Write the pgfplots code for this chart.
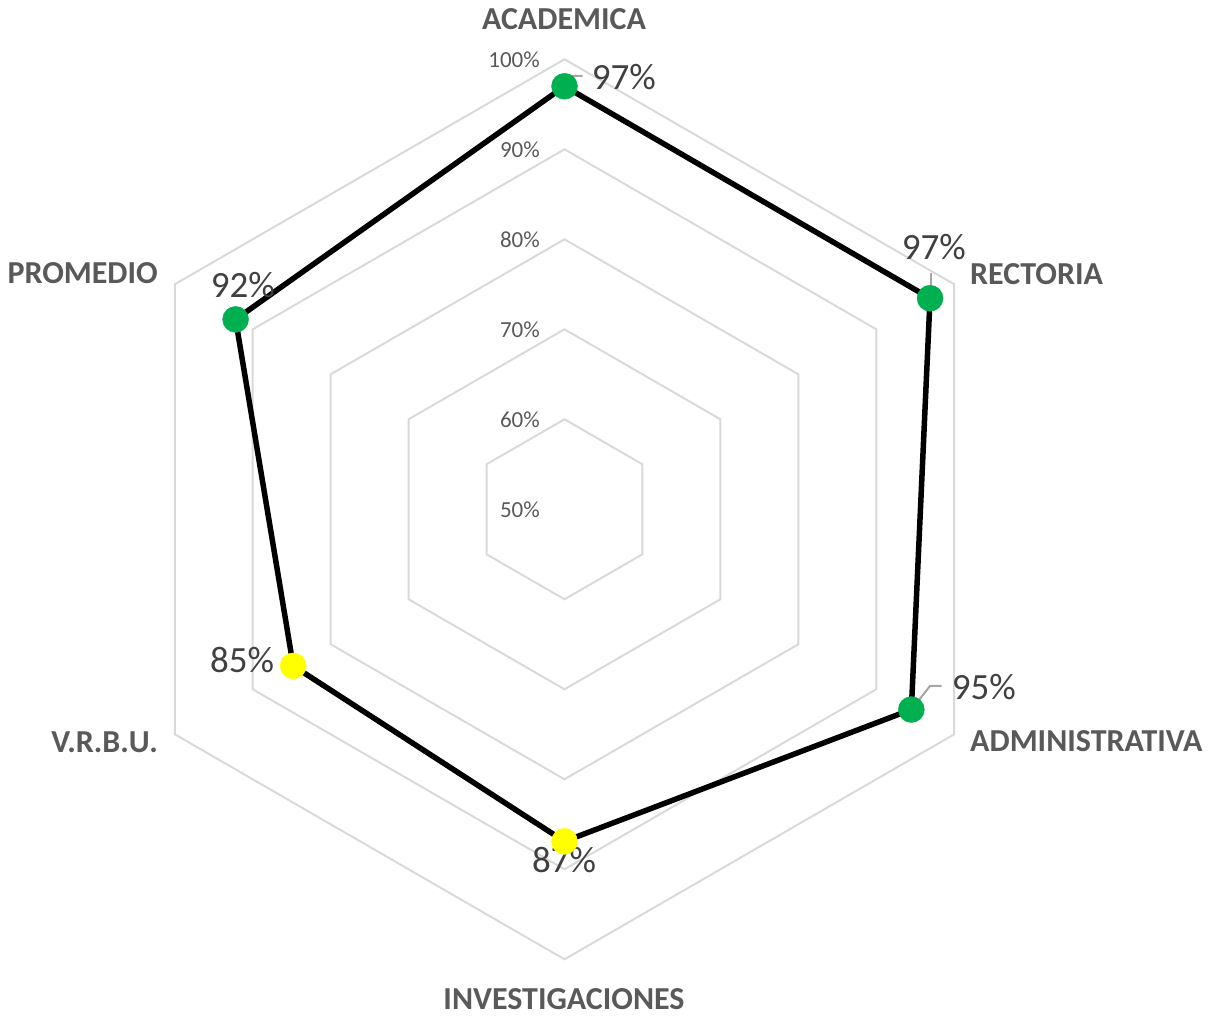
\documentclass[border=0pt]{standalone}
\usepackage{pgfplots}
\usepackage{pgfplotstable}
\pgfplotsset{compat=1.18}
\usepackage{fontspec}
\setmainfont{Carlito}
\definecolor{exgreen}{HTML}{00B050}
\definecolor{exyellow}{HTML}{FFFF00}
\definecolor{gridc}{HTML}{D9D9D9}
\definecolor{cattext}{HTML}{595959}
\definecolor{lbltext}{HTML}{404040}
\definecolor{leader}{HTML}{A6A6A6}
\def\cx{564.5}
\def\cy{506.7}
% angle (deg, counterclockwise from east), value (%), class
\pgfplotstableread{
a v c
90 97.0 g
30 96.9 g
-30 94.5 g
-90 86.9 y
-150 84.8 y
150 92.2 g
90 97.0 g
}\radar
\begin{document}
\begin{tikzpicture}
\begin{axis}[x=1pt,y=1pt,xmin=0,xmax=1211,ymin=0,ymax=1016,hide axis,clip=false]
% grid hexagons 60%..100%
\pgfplotsinvokeforeach{1,2,3,4,5}{
 \draw[gridc,line width=2pt,line join=miter]
 ({\cx+90*#1*cos(90)},{\cy+90*#1*sin(90)}) --
 ({\cx+90*#1*cos(30)},{\cy+90*#1*sin(30)}) --
 ({\cx+90*#1*cos(-30)},{\cy+90*#1*sin(-30)}) --
 ({\cx+90*#1*cos(-90)},{\cy+90*#1*sin(-90)}) --
 ({\cx+90*#1*cos(-150)},{\cy+90*#1*sin(-150)}) --
 ({\cx+90*#1*cos(150)},{\cy+90*#1*sin(150)}) -- cycle;
}
% scale labels
\begin{scope}[every node/.style={anchor=east,inner sep=0pt,text=cattext,font=\fontsize{23}{26}\selectfont}]
\node at (540,506.7) {50\%};
\node at (540,596.7) {60\%};
\node at (540,686.7) {70\%};
\node at (540,776.7) {80\%};
\node at (540,866.7) {90\%};
\node at (540,956.7) {100\%};
\end{scope}
% data line
\addplot[black,line width=5.5pt,line join=round,no marks]
 table[x expr={\cx+9*(\thisrow{v}-50)*cos(\thisrow{a})},
       y expr={\cy+9*(\thisrow{v}-50)*sin(\thisrow{a})}] {\radar};
% markers
\addplot[scatter,only marks,point meta=explicit symbolic,
 skip coords between index={6}{7},
 scatter/classes={g={mark=*,mark size=13pt,draw=exgreen,fill=exgreen},
                  y={mark=*,mark size=13pt,draw=exyellow,fill=exyellow}}]
 table[x expr={\cx+9*(\thisrow{v}-50)*cos(\thisrow{a})},
       y expr={\cy+9*(\thisrow{v}-50)*sin(\thisrow{a})},meta=c] {\radar};
% leader lines
\draw[leader,line width=2pt] (564,931) -- (570,940) -- (582.7,940);
\draw[leader,line width=2pt] (930.7,719.3) -- (930.7,742.7);
\draw[leader,line width=2pt] (911.7,306.7) -- (930,330) -- (941.7,330);
\draw[leader,line width=2pt] (281.7,356.7) -- (293.3,356.7) -- (293.3,351.7);
% data labels
\begin{scope}[every node/.style={inner sep=0pt,text=lbltext,font=\fontsize{37}{40}\selectfont}]
\node[anchor=base west] at (591.7,926) {97\%};
\node[anchor=base west] at (901.7,756) {97\%};
\node[anchor=base west] at (951.7,316) {95\%};
\node[anchor=base] at (564,143) {87\%};
\node[anchor=base west] at (210,343) {85\%};
\node[anchor=base west] at (210.7,718) {92\%};
\end{scope}
% category labels
\begin{scope}[every node/.style={inner sep=0pt,text=cattext,font=\fontsize{32}{36}\selectfont\bfseries}]
\node[anchor=base] at (564,986.7) {ACADEMICA};
\node[anchor=base west] at (970,731) {RECTORIA};
\node[anchor=base west] at (970,264.3) {ADMINISTRATIVA};
\node[anchor=base] at (564,6.7) {INVESTIGACIONES};
\node[anchor=base east] at (158,263) {V.R.B.U.};
\node[anchor=base east] at (158,732) {PROMEDIO};
\end{scope}
\end{axis}
\pgfresetboundingbox
\useasboundingbox (current axis.south west) rectangle (current axis.north east);
\end{tikzpicture}
\end{document}
